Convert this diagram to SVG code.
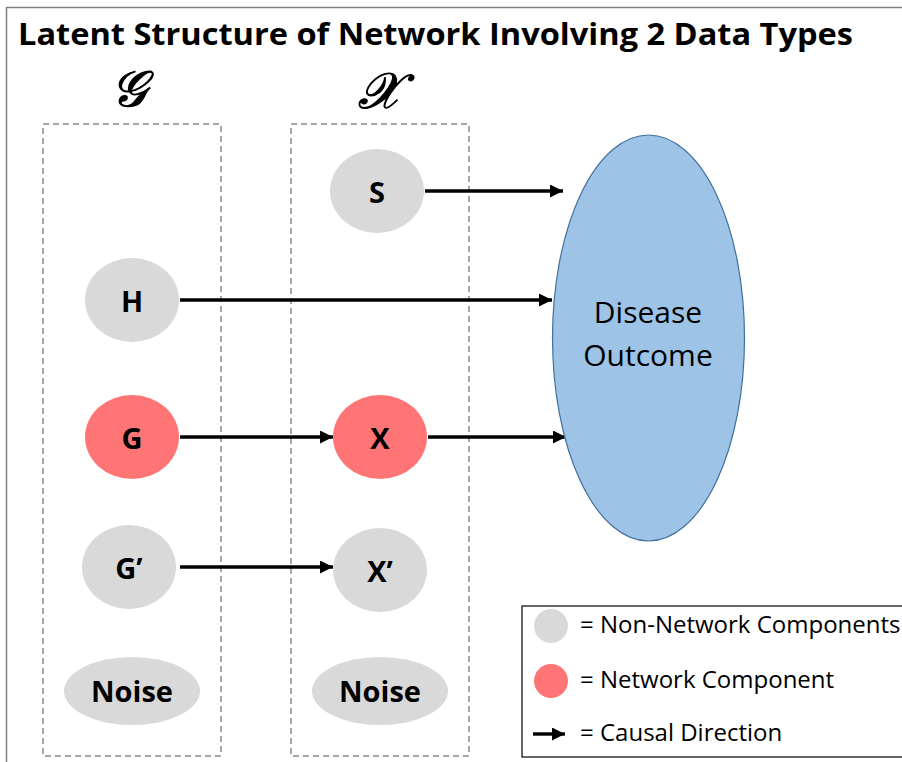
<svg xmlns="http://www.w3.org/2000/svg" width="902" height="762" viewBox="0 0 902 762">
<style>
.frame{fill:none;stroke:#a6a6a6;stroke-width:2;stroke-dasharray:6 4}
.nn{fill:#d9d9d9}
.net{fill:#ff7575}
.lbl{font-family:"Open Sans",sans-serif;font-weight:bold;font-size:29px;fill:#000;text-anchor:middle;dominant-baseline:central}
.edge{stroke:#000;stroke-width:3.4;fill:none;marker-end:url(#ah)}
.leg{font-family:"Open Sans",sans-serif;font-size:24px;fill:#000}
.script{font-family:"DejaVu Serif","Noto Sans",serif;font-style:italic;font-size:50px;fill:#000;stroke:#000;stroke-width:1.2;text-anchor:middle}
</style>
<defs>
<marker id="ah" viewBox="0 0 12 12" refX="12" refY="6" markerWidth="13" markerHeight="13" markerUnits="userSpaceOnUse" orient="auto">
<path d="M0,0 L12,6 L0,12 Z" fill="#000"/>
</marker>
</defs>
<rect width="902" height="762" fill="#fff"/>
<path d="M6.5,762 V7.5 H902" fill="none" stroke="#808080" stroke-width="1.5"/>
<text x="18" y="45" font-family="Open Sans, sans-serif" font-weight="bold" font-size="31" textLength="835" lengthAdjust="spacingAndGlyphs">Latent Structure of Network Involving 2 Data Types</text>
<g id="frame-G">
<rect class="frame" x="43" y="124" width="178" height="632"/>
<text class="script" x="129" y="106">𝒢</text>
</g>
<g id="frame-X">
<rect class="frame" x="291" y="124" width="178" height="632"/>
<text class="script" x="379" y="108">𝒳</text>
</g>
<g id="connectors">
<line class="edge" x1="425" y1="191" x2="563" y2="191"/>
<line class="edge" x1="180" y1="300" x2="552" y2="300"/>
<line class="edge" x1="180" y1="437" x2="333" y2="437"/>
<line class="edge" x1="428" y1="437" x2="566" y2="437"/>
<line class="edge" x1="180" y1="567" x2="333" y2="567"/>
</g>
<g id="node-S"><ellipse class="nn" cx="377" cy="191" rx="47" ry="42"/><text class="lbl" x="377" y="191">S</text></g>
<g id="node-H"><ellipse class="nn" cx="132" cy="300" rx="47" ry="42"/><text class="lbl" x="132" y="300">H</text></g>
<g id="node-G"><ellipse class="net" cx="132" cy="437" rx="47" ry="42"/><text class="lbl" x="132" y="437">G</text></g>
<g id="node-X"><ellipse class="net" cx="380" cy="437" rx="47" ry="42"/><text class="lbl" x="380" y="437">X</text></g>
<g id="node-Gp"><ellipse class="nn" cx="129" cy="567" rx="47" ry="42"/><text class="lbl" x="129" y="567">G’</text></g>
<g id="node-Xp"><ellipse class="nn" cx="380" cy="570" rx="47" ry="42"/><text class="lbl" x="380" y="570">X’</text></g>
<g id="node-NoiseG"><ellipse class="nn" cx="132" cy="691" rx="68" ry="34"/><text class="lbl" x="132" y="690">Noise</text></g>
<g id="node-NoiseX"><ellipse class="nn" cx="380" cy="691" rx="68" ry="34"/><text class="lbl" x="380" y="690">Noise</text></g>
<g id="node-Disease">
<ellipse cx="648.5" cy="338" rx="96" ry="203" fill="#9dc3e6" stroke="#41719c" stroke-width="1.2"/>
<text x="648" y="323" font-family="Open Sans, sans-serif" font-size="30" text-anchor="middle">Disease</text>
<text x="648" y="366" font-family="Open Sans, sans-serif" font-size="30" text-anchor="middle">Outcome</text>
</g>
<g id="legend">
<rect x="522" y="606" width="400" height="151" fill="none" stroke="#000" stroke-width="1.2"/>
<circle class="nn" cx="551" cy="626" r="17"/>
<circle class="net" cx="551" cy="681" r="17"/>
<line x1="533" y1="734" x2="565" y2="734" stroke="#000" stroke-width="3.4" marker-end="url(#ah)"/>
<text class="leg" x="580" y="633">= Non-Network Components</text>
<text class="leg" x="580" y="688">= Network Component</text>
<text class="leg" x="580" y="741">= Causal Direction</text>
</g>
</svg>
